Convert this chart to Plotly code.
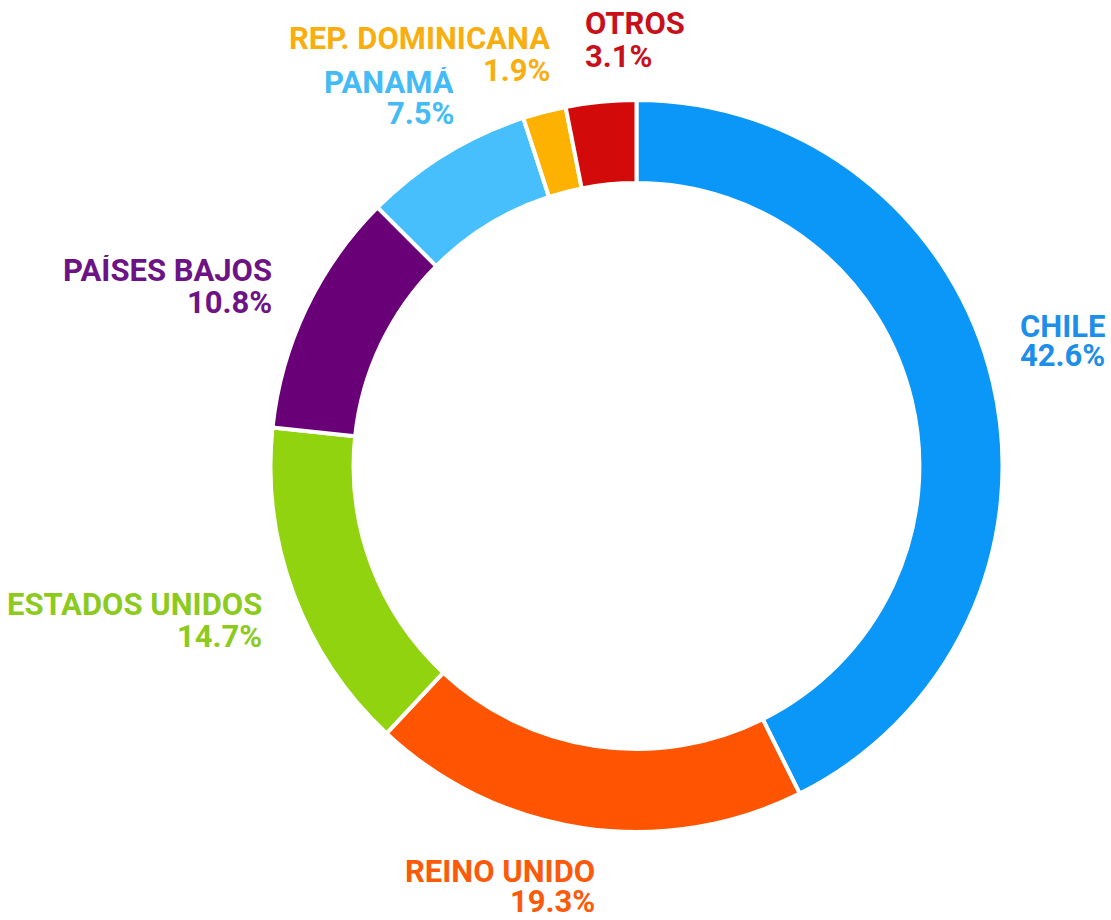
import plotly.graph_objects as go

# shares by destination, clockwise from 12 o'clock
countries = ["CHILE", "REINO UNIDO", "ESTADOS UNIDOS", "PAÍSES BAJOS",
             "PANAMÁ", "REP. DOMINICANA", "OTROS"]
shares = [42.6, 19.3, 14.7, 10.8, 7.5, 1.9, 3.1]
slice_colors = ["#0A97F7", "#FF5502", "#92D30F", "#6A0078",
                "#46BFFC", "#FDB202", "#D20A0A"]
text_colors = ["#1D8FEA", "#FA5A0A", "#8CCB1E", "#6C1386",
               "#45BBF5", "#F8AE10", "#C8101A"]

# label placement in window pixels: (x, anchor, name line y, percent line y)
label_pos = {
    "CHILE": (1019, "left", 326, 355),
    "REINO UNIDO": (596, "right", 871, 901),
    "ESTADOS UNIDOS": (263, "right", 604, 636),
    "PAÍSES BAJOS": (273, "right", 270, 302),
    "PANAMÁ": (455, "right", 82, 113),
    "REP. DOMINICANA": (551, "right", 38, 70),
    "OTROS": (584, "left", 23, 56),
}

W, H = 1111, 920
cx, cy, r = 636.5, 466, 366

fig = go.Figure(go.Pie(
    labels=countries,
    values=shares,
    sort=False,
    direction="clockwise",
    rotation=0,
    hole=0.773,
    textinfo="none",
    hoverinfo="label+percent",
    marker=dict(colors=slice_colors, line=dict(color="white", width=4)),
    domain=dict(x=[(cx - r) / W, (cx + r) / W], y=[1 - (cy + r) / H, 1 - (cy - r) / H]),
    showlegend=False,
))

font_family = "Roboto, Arial, sans-serif"
for name, val, col in zip(countries, shares, text_colors):
    px, anchor, y1, y2 = label_pos[name]
    for txt, py in ((name, y1), (f"{val}%", y2)):
        # tight line pitch as in the original, so keep the text boxes short
        fig.add_annotation(
            x=px / W, y=1 - py / H, xref="paper", yref="paper",
            text=f"<b>{txt}</b>", showarrow=False, borderpad=0, height=30,
            xanchor=anchor, yanchor="middle", align=anchor, valign="middle",
            font=dict(family=font_family, size=31, color=col),
        )

fig.update_layout(
    width=W, height=H,
    margin=dict(l=0, r=0, t=0, b=0),
    paper_bgcolor="white",
    plot_bgcolor="white",
)

# drop the default 8px body margin so the figure fills the window
fig.write_html("out.html", config={"displayModeBar": False},
               post_script="document.body.style.margin='0';")
